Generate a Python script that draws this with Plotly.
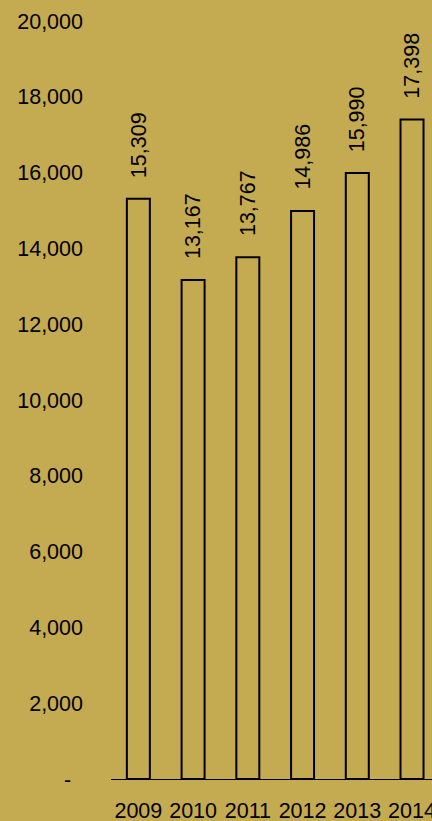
import plotly.graph_objects as go

years = ["2009", "2010", "2011", "2012", "2013", "2014"]
values = [15309, 13167, 13767, 14986, 15990, 17398]
ytick_vals = [0, 2000, 4000, 6000, 8000, 10000, 12000, 14000, 16000, 18000, 20000]
ytick_text = ["-\u00a0\u00a0", "2,000", "4,000", "6,000", "8,000", "10,000",
              "12,000", "14,000", "16,000", "18,000", "20,000"]

BG = "#c4aa50"
FONT = "Liberation Sans, Arial, sans-serif"
FS = 21.5

fig = go.Figure()
fig.add_trace(go.Bar(
    x=years, y=values,
    marker=dict(color="rgba(0,0,0,0)", line=dict(color="black", width=2)),
    hoverinfo="skip",
))

for i, v in enumerate(values):
    fig.add_annotation(
        x=i, y=v, xref="x", yref="y", text=f"{v:,}", textangle=-90, showarrow=False,
        xanchor="center", yanchor="bottom", yshift=19,
        font=dict(family=FONT, size=FS, color="black"),
    )

fig.update_layout(
    width=432, height=821,
    paper_bgcolor=BG, plot_bgcolor=BG,
    margin=dict(l=111, r=0, t=21, b=42),
    bargap=0.58,
    showlegend=False,
    font=dict(family=FONT, size=FS, color="black"),
)
fig.update_xaxes(
    type="category",
    range=[-0.5, 5.365],
    showline=True, linecolor="black", linewidth=1,
    showgrid=False, zeroline=False, automargin=False,
    ticks="", ticklabelstandoff=12,
    tickfont=dict(family=FONT, size=FS, color="black"),
)
fig.update_yaxes(
    range=[0, 20000], automargin=False,
    tickvals=ytick_vals, ticktext=ytick_text,
    showgrid=False, zeroline=False, showline=False,
    ticks="", ticklabelstandoff=27,
    tickfont=dict(family=FONT, size=FS, color="black"),
)

fig.write_html("out.html")
